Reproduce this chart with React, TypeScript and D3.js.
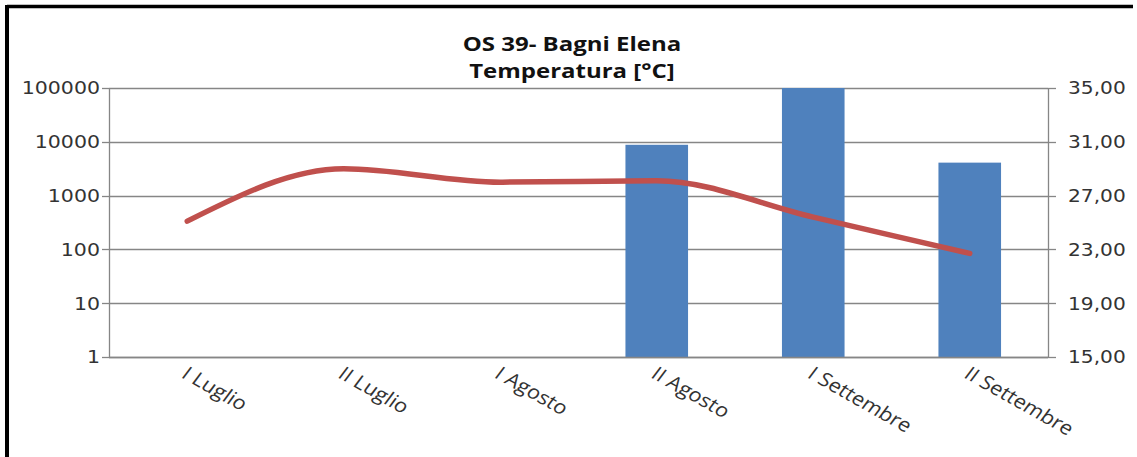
import React, { useEffect, useRef } from "react";
import * as d3 from "d3";

const categories = ["I Luglio", "II Luglio", "I Agosto", "II Agosto", "I Settembre", "II Settembre"];
const barValues: (number | null)[] = [null, null, null, 8800, 100000, 4100];
const tempValues = [25.1, 29.0, 28.0, 28.1, 25.4, 22.7];
const leftTicks = [1, 10, 100, 1000, 10000, 100000];
const rightTicks = [15, 19, 23, 27, 31, 35];
const titleLines = ["OS 39- Bagni Elena", "Temperatura [°C]"];

const W = 1137;
const H = 457;

export default function App() {
  const ref = useRef<SVGSVGElement | null>(null);

  useEffect(() => {
    document.body.style.margin = "0";
    const svg = d3.select(ref.current);
    svg.selectAll("*").remove();

    const left = 109, right = 1048, top = 88, bottom = 357;

    svg.append("rect").attr("width", W).attr("height", H).attr("fill", "#fff");
    // border (top & left visible)
    svg.append("line").attr("x1", 7).attr("x2", 1133).attr("y1", 6.5).attr("y2", 6.5)
      .attr("stroke", "#000").attr("stroke-width", 3.5);
    svg.append("line").attr("x1", 7).attr("x2", 7).attr("y1", 5).attr("y2", H)
      .attr("stroke", "#000").attr("stroke-width", 4);

    const x = d3.scaleBand<string>().domain(categories).range([left, right]).paddingInner(0).paddingOuter(0);
    const yL = d3.scaleLog().domain([1, 100000]).range([bottom, top]);
    const yR = d3.scaleLinear().domain([15, 35]).range([bottom, top]);

    // gridlines
    svg.append("g").selectAll("line").data(leftTicks).join("line")
      .attr("x1", left).attr("x2", right)
      .attr("y1", (d) => Math.round(yL(d)) + 0.5).attr("y2", (d) => Math.round(yL(d)) + 0.5)
      .attr("stroke", "#868686").attr("stroke-width", 1.3);

    // bars
    const bw = x.bandwidth() / 2.5;
    svg.append("g").selectAll("rect").data(categories.map((c, i) => ({ c, v: barValues[i] })).filter((d) => d.v != null))
      .join("rect")
      .attr("x", (d) => (x(d.c) as number) + x.bandwidth() / 2 - bw / 2)
      .attr("width", bw)
      .attr("y", (d) => yL(d.v as number))
      .attr("height", (d) => bottom - yL(d.v as number))
      .attr("fill", "#4F81BD");

    // axes lines
    const axisColor = "#868686";
    svg.append("line").attr("x1", left + 0.5).attr("x2", left + 0.5).attr("y1", top).attr("y2", bottom)
      .attr("stroke", axisColor).attr("stroke-width", 1.3);
    svg.append("line").attr("x1", right + 0.5).attr("x2", right + 0.5).attr("y1", top).attr("y2", bottom)
      .attr("stroke", axisColor).attr("stroke-width", 1.3);
    svg.append("line").attr("x1", left).attr("x2", right).attr("y1", bottom + 0.5).attr("y2", bottom + 0.5)
      .attr("stroke", axisColor).attr("stroke-width", 1.5);

    // left ticks
    const lg = svg.append("g");
    lg.selectAll("line").data(leftTicks).join("line")
      .attr("x1", left - 7).attr("x2", left)
      .attr("y1", (d) => Math.round(yL(d)) + 0.5).attr("y2", (d) => Math.round(yL(d)) + 0.5)
      .attr("stroke", axisColor).attr("stroke-width", 1.3);
    lg.selectAll("text").data(leftTicks).join("text")
      .attr("x", 100).attr("y", (d) => yL(d))
      .attr("dy", "0.36em").attr("text-anchor", "end")
      .attr("font-family", "DejaVu Sans").attr("font-size", 18).attr("fill", "#333")
      .attr("transform", `translate(100,0) scale(1.14,1) translate(-100,0)`)
      .text((d) => String(d));

    // right ticks
    const rg = svg.append("g");
    rg.selectAll("line").data(rightTicks).join("line")
      .attr("x1", right).attr("x2", right + 8)
      .attr("y1", (d) => Math.round(yR(d)) + 0.5).attr("y2", (d) => Math.round(yR(d)) + 0.5)
      .attr("stroke", axisColor).attr("stroke-width", 1.3);
    rg.selectAll("text").data(rightTicks).join("text")
      .attr("x", 1068).attr("y", (d) => yR(d))
      .attr("dy", "0.36em").attr("text-anchor", "start")
      .attr("font-family", "DejaVu Sans").attr("font-size", 18).attr("fill", "#333")
      .attr("transform", `translate(1068,0) scale(1.12,1) translate(-1068,0)`)
      .text((d) => d3.format(".2f")(d).replace(".", ","));

    // line
    const line = d3.line<number>()
      .x((_, i) => (x(categories[i]) as number) + x.bandwidth() / 2)
      .y((d) => yR(d))
      .curve(d3.curveMonotoneX);
    svg.append("path").datum(tempValues).attr("d", line)
      .attr("fill", "none").attr("stroke", "#C0504D").attr("stroke-width", 5.5)
      .attr("stroke-linecap", "round").attr("stroke-linejoin", "round");

    // category labels
    const cg = svg.append("g");
    cg.selectAll("text").data(categories).join("text")
      .attr("transform", (d) => `translate(${(x(d) as number) + x.bandwidth() / 2 + 2},${bottom + 8}) scale(1.15,1) rotate(33)`)
      .attr("font-family", "Open Sans").attr("font-size", 19).attr("fill", "#333")
      .attr("dy", "0.75em")
      .text((d) => d);

    // title
    const tg = svg.append("g");
    tg.selectAll("text").data(titleLines).join("text")
      .attr("x", 572).attr("y", (_, i) => 51 + i * 27)
      .attr("text-anchor", "middle")
      .attr("font-family", "Open Sans").attr("font-weight", "bold").attr("font-size", 20).attr("fill", "#111")
      .attr("transform", `translate(572,0) scale(1.2,1) translate(-572,0)`)
      .text((d) => d);
  }, []);

  return <svg ref={ref} width={W} height={H} style={{ display: "block" }} />;
}
